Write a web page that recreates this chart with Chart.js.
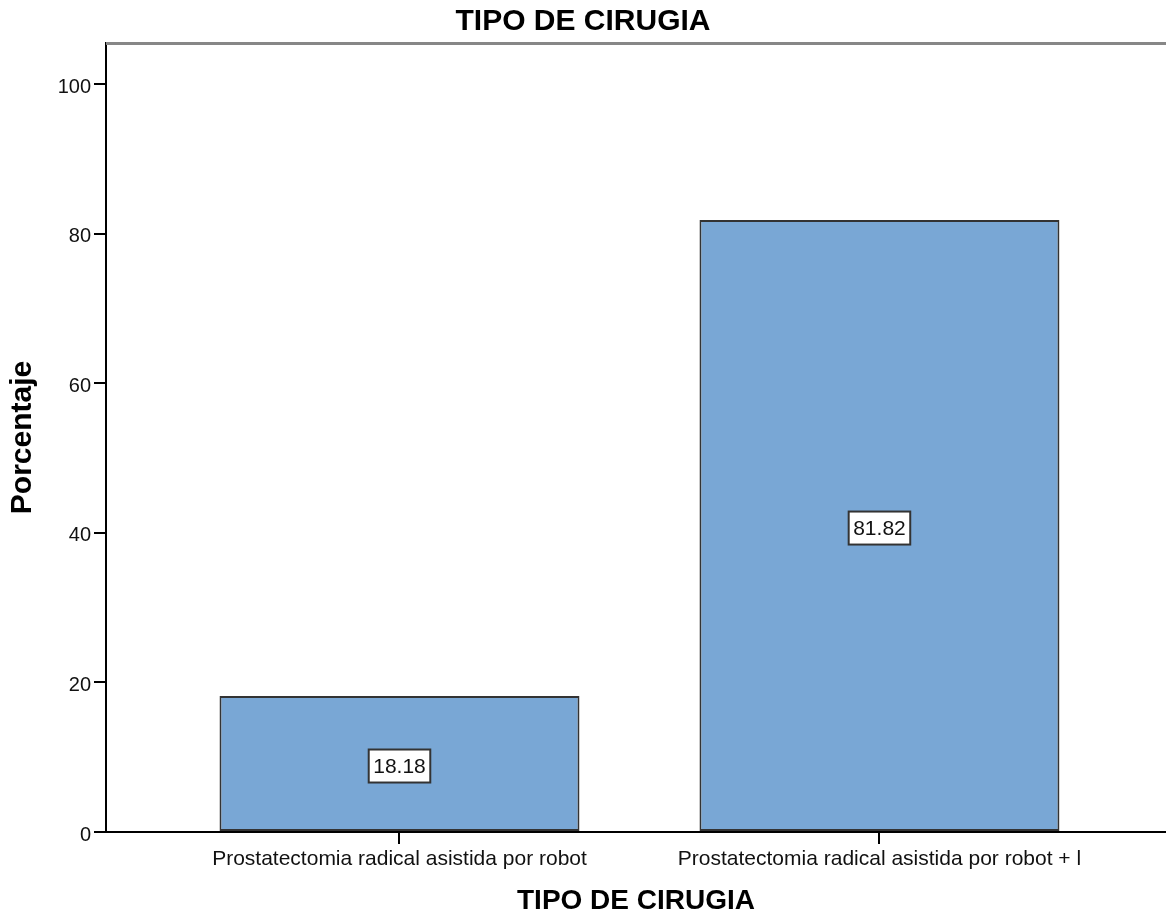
<!DOCTYPE html>
<html>
<head>
<meta charset="utf-8">
<script src="https://cdn.jsdelivr.net/npm/chart.js@4.4.0/dist/chart.umd.min.js"></script>
<style>
  html, body { margin: 0; padding: 0; background: #fff; overflow: hidden; }
  #wrap { width: 1166px; height: 918px; }
</style>
</head>
<body>
<div id="wrap"><canvas id="chart" width="1166" height="918"></canvas></div>
<script>
// data
const categories = ['Prostatectomia radical asistida por robot', 'Prostatectomia radical asistida por robot + l'];
const percentages = [18.18, 81.82];
const yTicks = [0, 20, 40, 60, 80, 100];

const FONT = '"Liberation Sans", Arial, sans-serif';

// white boxed value label in the middle of each bar
const barLabels = {
    id: 'barLabels',
    afterDatasetsDraw(chart) {
        const ctx = chart.ctx;
        const yScale = chart.scales.y;
        const meta = chart.getDatasetMeta(0);
        ctx.save();
        ctx.font = '21px ' + FONT;
        ctx.textAlign = 'center';
        ctx.textBaseline = 'middle';
        meta.data.forEach((bar, i) => {
            const v = percentages[i];
            const text = v.toFixed(2);
            const y = yScale.getPixelForValue(v / 2) + 2;
            const w = ctx.measureText(text).width + 9;
            const h = 33;
            ctx.fillStyle = '#fff';
            ctx.fillRect(bar.x - w / 2, y - h / 2, w, h);
            ctx.lineWidth = 2;
            ctx.strokeStyle = '#333';
            ctx.strokeRect(bar.x - w / 2, y - h / 2, w, h);
            ctx.fillStyle = '#111';
            ctx.fillText(text, bar.x, y + 1);
        });
        ctx.restore();
    }
};

// grey frame line along the top of the plot
const topFrame = {
    id: 'topFrame',
    afterDraw(chart) {
        const ctx = chart.ctx;
        const a = chart.chartArea;
        ctx.save();
        ctx.strokeStyle = '#878787';
        ctx.lineWidth = 3;
        ctx.beginPath();
        ctx.moveTo(a.left, a.top + 0.5);
        ctx.lineTo(chart.width, a.top + 0.5);
        ctx.stroke();
        ctx.restore();
    }
};

new Chart(document.getElementById('chart'), {
    type: 'bar',
    data: {
        datasets: [{
            data: percentages.map((v, i) => ({ x: i, y: v })),
            backgroundColor: '#79a7d5',
            borderColor: '#333',
            borderWidth: 2,
            borderSkipped: false,
            categoryPercentage: 0.75,
            barPercentage: 1
        }]
    },
    options: {
        responsive: false,
        devicePixelRatio: 1,
        animation: false,
        layout: { padding: 0 },
        plugins: {
            legend: { display: false },
            tooltip: { enabled: false },
            title: {
                display: true,
                text: 'TIPO DE CIRUGIA',
                color: '#000',
                font: { family: FONT, size: 30, weight: 'bold' },
                padding: { top: 4, bottom: 3 }
            }
        },
        scales: {
            x: {
                type: 'linear',
                min: -0.6115,
                max: 1.597,
                offset: false,
                afterBuildTicks: scale => { scale.ticks = categories.map((c, i) => ({ value: i })); },
                afterFit: scale => { scale.height = 86; },
                ticks: {
                    autoSkip: false,
                    maxRotation: 0,
                    color: '#111',
                    font: { family: FONT, size: 21 },
                    padding: 3,
                    callback: v => categories[v]
                },
                grid: { offset: false, drawOnChartArea: false, drawTicks: true, tickLength: 12, color: '#000', lineWidth: 2 },
                border: { display: true, color: '#000', width: 2 },
                title: {
                    display: true,
                    text: 'TIPO DE CIRUGIA',
                    color: '#000',
                    font: { family: FONT, size: 28, weight: 'bold' },
                    padding: { top: 0, bottom: 0 }
                }
            },
            y: {
                min: 0,
                max: 105.5,
                afterBuildTicks: scale => { scale.ticks = yTicks.map(v => ({ value: v })); },
                afterFit: scale => { scale.width = 106; },
                ticks: {
                    color: '#111',
                    font: { family: FONT, size: 20 },
                    padding: 3,
                    labelOffset: 3
                },
                grid: { drawOnChartArea: false, drawTicks: true, tickLength: 12, color: '#000', lineWidth: 2 },
                border: { display: true, color: '#000', width: 2 },
                title: {
                    display: true,
                    text: 'Porcentaje',
                    color: '#000',
                    font: { family: FONT, size: 30, weight: 'bold' },
                    padding: { top: 5, bottom: 0 }
                }
            }
        }
    },
    plugins: [barLabels, topFrame]
});
</script>
</body>
</html>
